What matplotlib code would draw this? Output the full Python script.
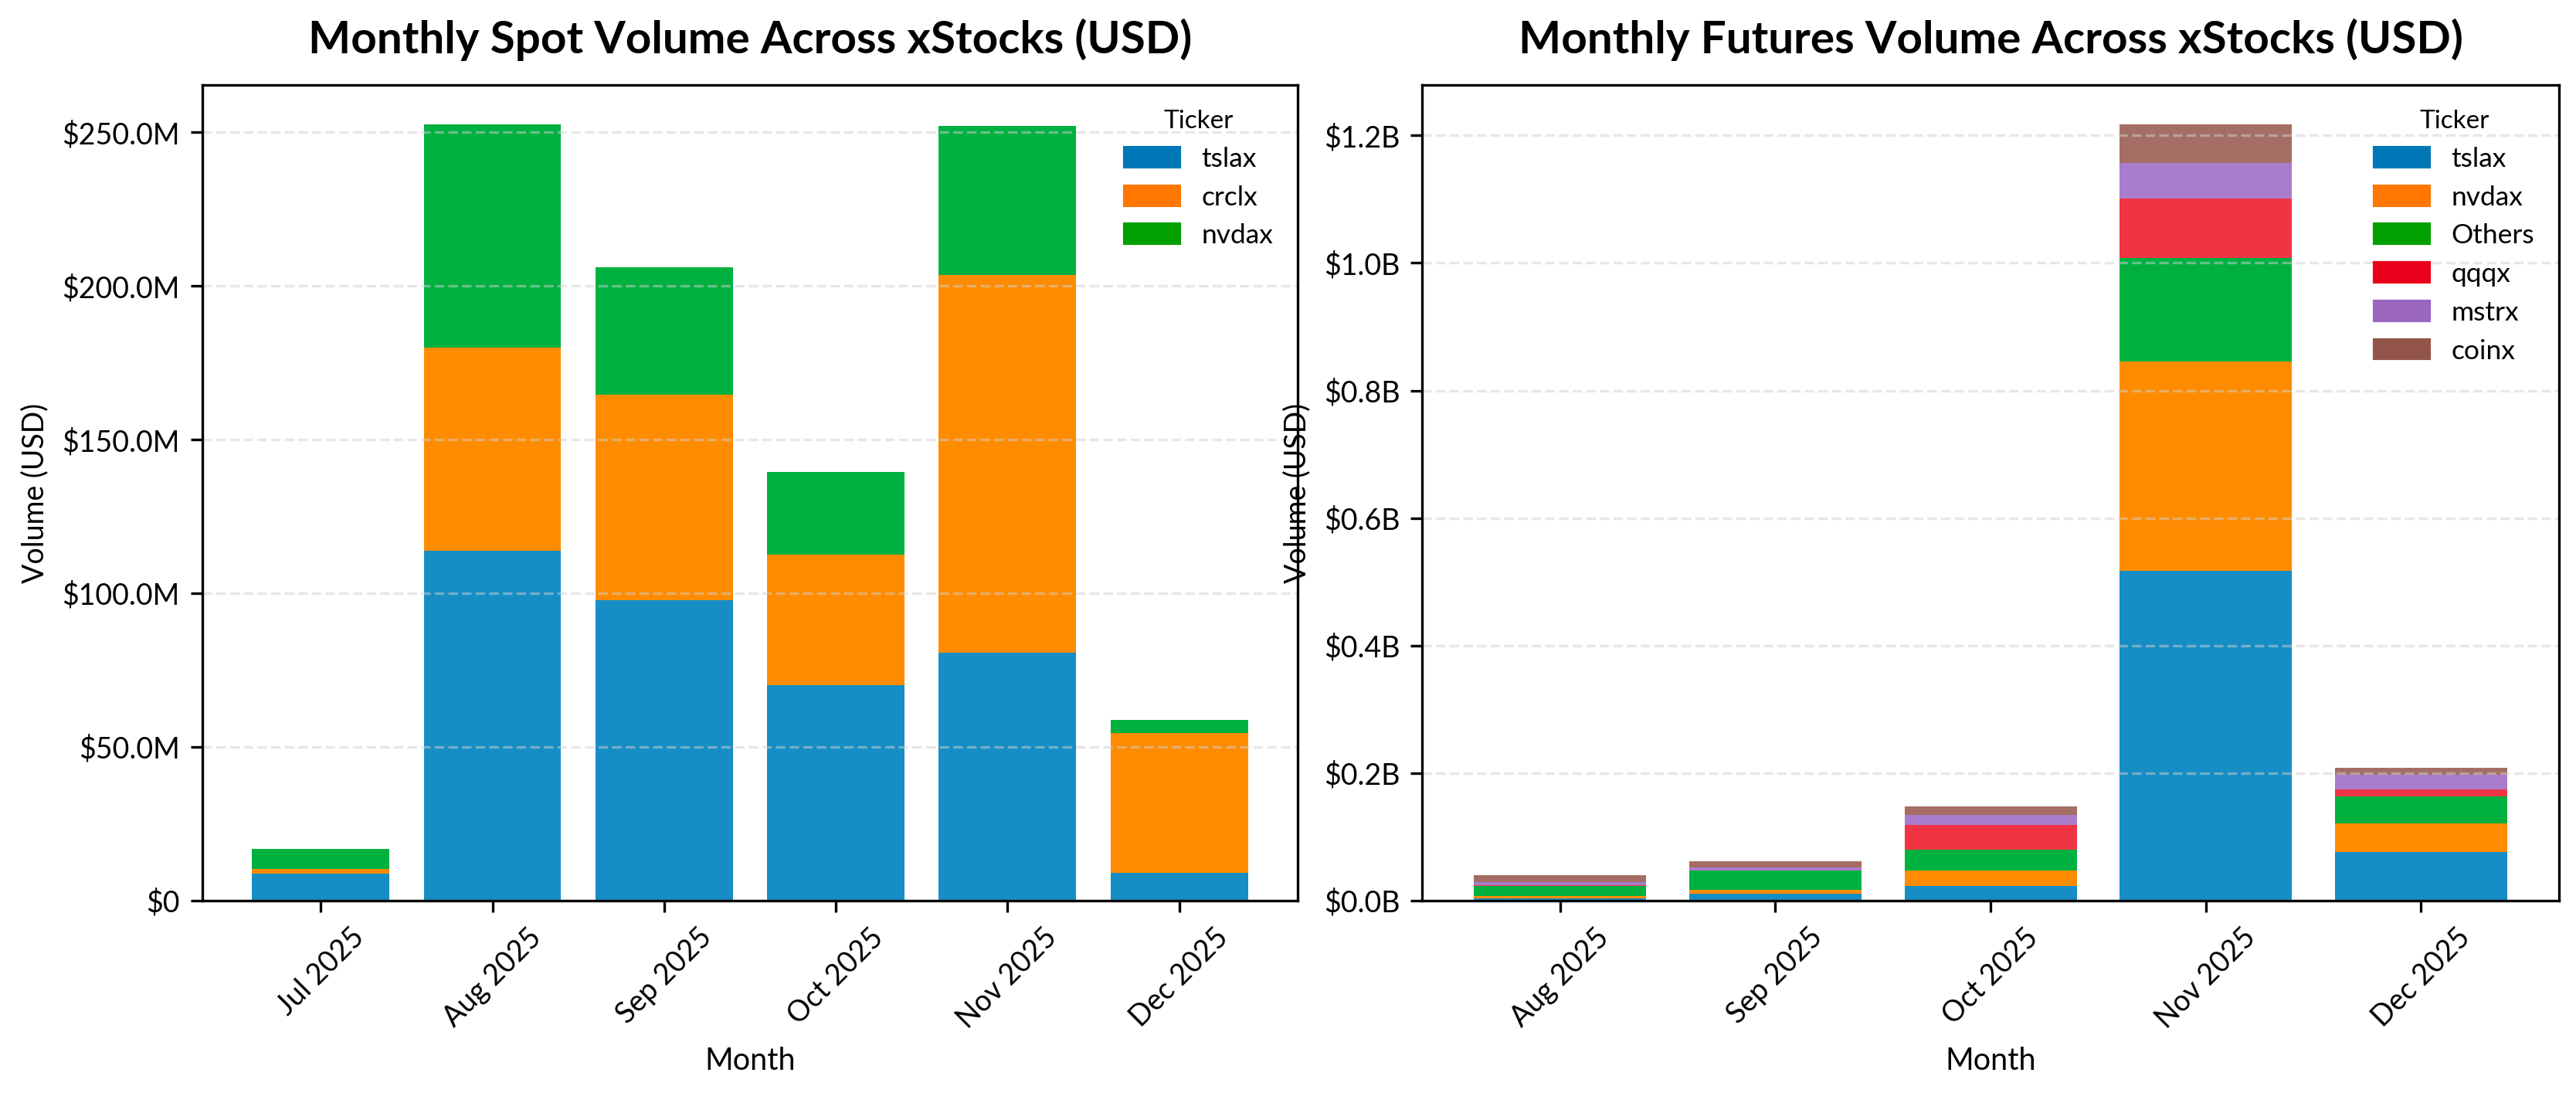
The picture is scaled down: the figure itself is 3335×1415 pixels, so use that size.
import numpy as np
import matplotlib
matplotlib.use("Agg")
import matplotlib.pyplot as plt
from matplotlib.patches import Patch
from matplotlib.ticker import FuncFormatter

plt.rcParams['font.family'] = ['Lato', 'DejaVu Sans']

# spot volume, millions of USD
spot_months = ["Jul 2025", "Aug 2025", "Sep 2025", "Oct 2025", "Nov 2025", "Dec 2025"]
spot_tickers = ["tslax", "crclx", "nvdax"]
spot_tslax = [8.8, 113.8, 97.8, 70.0, 80.7, 9.1]
spot_crclx = [1.5, 66.2, 66.7, 42.7, 122.8, 45.4]
spot_nvdax = [6.5, 72.7, 41.5, 26.7, 48.6, 4.3]

# futures volume, billions of USD
fut_months = ["Aug 2025", "Sep 2025", "Oct 2025", "Nov 2025", "Dec 2025"]
fut_tickers = ["tslax", "nvdax", "Others", "qqqx", "mstrx", "coinx"]
fut_tslax = [0.0040, 0.0113, 0.023, 0.517, 0.0763]
fut_nvdax = [0.0036, 0.0060, 0.024, 0.3284, 0.0447]
fut_others = [0.0150, 0.0299, 0.033, 0.1622, 0.0424]
fut_qqqx = [0.0010, 0.0005, 0.039, 0.0941, 0.0113]
fut_mstrx = [0.0054, 0.0040, 0.015, 0.0553, 0.0230]
fut_coinx = [0.0113, 0.0097, 0.0137, 0.0610, 0.0109]

bar_colors = ['#168dc5', '#ff8c00', '#00b140', '#f03444', '#aa7ccc', '#a46e64']
legend_colors = ['#0077b6', '#ff7700', '#00a000', '#ea001a', '#9b66c0', '#925448']


def stacked(ax, months, series, labels, scale):
    x = np.arange(len(months))
    bottom = np.zeros(len(months))
    for i, vals in enumerate(series):
        v = np.array(vals) * scale
        ax.bar(x, v, 0.8, bottom=bottom, color=bar_colors[i], label=labels[i])
        bottom += v
    ax.set_xticks(x)
    ax.set_xticklabels(months, rotation=45, fontsize=9)
    ax.tick_params(axis='y', labelsize=9)
    ax.set_xlabel("Month", fontsize=9.5)
    ax.set_ylabel("Volume (USD)", fontsize=9)
    ax.grid(axis='y', linestyle='--', color='#d0d0d0', alpha=0.5)
    handles = [Patch(color=legend_colors[i], label=labels[i]) for i in range(len(labels))]
    ax.legend(handles=handles, title="Ticker", loc='upper right', frameon=False,
              fontsize=8.5, title_fontsize=8)


fig = plt.figure(figsize=(11.12, 4.717), dpi=300)
ax1 = fig.add_axes([0.0785, 0.176, 0.4251, 0.746])
ax2 = fig.add_axes([0.552, 0.176, 0.441, 0.746])

stacked(ax1, spot_months, [spot_tslax, spot_crclx, spot_nvdax], spot_tickers, 1e6)
ax1.set_title("Monthly Spot Volume Across xStocks (USD)", fontsize=14, fontweight='bold', pad=10)
ax1.yaxis.set_major_formatter(FuncFormatter(lambda v, p: "$0" if v == 0 else f"${v/1e6:.1f}M"))

stacked(ax2, fut_months, [fut_tslax, fut_nvdax, fut_others, fut_qqqx, fut_mstrx, fut_coinx],
        fut_tickers, 1e9)
ax2.set_title("Monthly Futures Volume Across xStocks (USD)", fontsize=14, fontweight='bold', pad=10)
ax2.yaxis.set_major_formatter(FuncFormatter(lambda v, p: f"${v/1e9:.1f}B"))

fig.savefig("out.png", dpi=300)
